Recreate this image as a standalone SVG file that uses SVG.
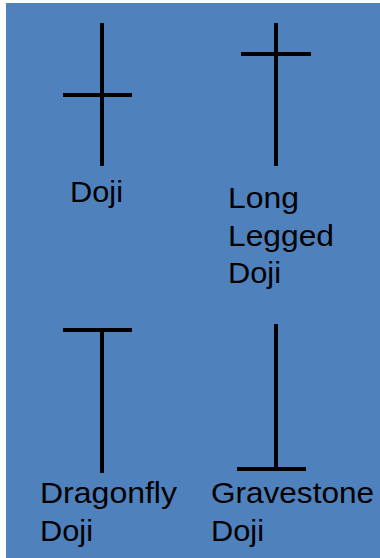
<svg xmlns="http://www.w3.org/2000/svg" width="380" height="558" viewBox="0 0 380 558">
<style>
.bar{stroke:#000;stroke-width:4;fill:none}
.lbl{font-family:"Liberation Sans",Arial,sans-serif;font-size:29.5px;fill:#000}
</style>
<rect x="0" y="0" width="380" height="558" fill="#fff"/>
<rect x="6" y="3" width="374" height="555" fill="#4F81BD"/>
<g id="connectors"></g>
<g id="doji">
<line class="bar" x1="102" y1="23" x2="102" y2="166"/>
<line class="bar" x1="63" y1="95" x2="132" y2="95"/>
<text class="lbl" x="70" y="202" textLength="53" lengthAdjust="spacingAndGlyphs">Doji</text>
</g>
<g id="long-legged-doji">
<line class="bar" x1="276" y1="23" x2="276" y2="166"/>
<line class="bar" x1="241" y1="54" x2="311" y2="54"/>
<text class="lbl" x="228" y="208" textLength="71" lengthAdjust="spacingAndGlyphs">Long</text>
<text class="lbl" x="228" y="246" textLength="106" lengthAdjust="spacingAndGlyphs">Legged</text>
<text class="lbl" x="228" y="283" textLength="53" lengthAdjust="spacingAndGlyphs">Doji</text>
</g>
<g id="dragonfly-doji">
<line class="bar" x1="63" y1="330" x2="132" y2="330"/>
<line class="bar" x1="102" y1="330" x2="102" y2="473"/>
<text class="lbl" x="40" y="503" textLength="137" lengthAdjust="spacingAndGlyphs">Dragonfly</text>
<text class="lbl" x="40" y="541" textLength="53" lengthAdjust="spacingAndGlyphs">Doji</text>
</g>
<g id="gravestone-doji">
<line class="bar" x1="276" y1="324" x2="276" y2="469"/>
<line class="bar" x1="237" y1="469" x2="306" y2="469"/>
<text class="lbl" x="211" y="503" textLength="163" lengthAdjust="spacingAndGlyphs">Gravestone</text>
<text class="lbl" x="211" y="541" textLength="53" lengthAdjust="spacingAndGlyphs">Doji</text>
</g>
</svg>
